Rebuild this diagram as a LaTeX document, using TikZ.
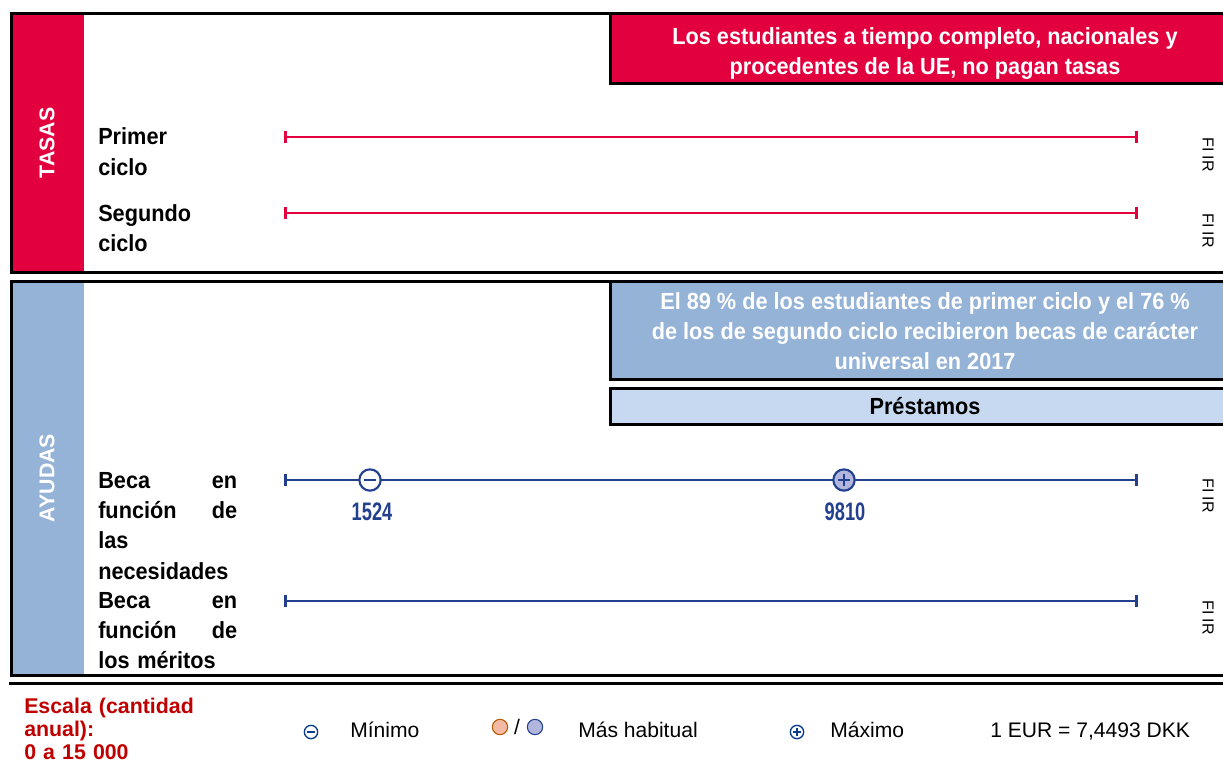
\documentclass[tikz,border=0pt]{standalone}
\usepackage{fontspec}
\setmainfont{Liberation Sans}
\newfontfamily\condfont{Liberation Sans}[FakeStretch=0.93]
\newfontfamily\numfont{Liberation Sans}[FakeStretch=0.72]
\usepackage{xcolor}
\usepackage{tikz}
\usetikzlibrary{arrows.meta}
\definecolor{tasasred}{HTML}{E2003F}
\definecolor{ayudasblue}{HTML}{95B3D7}
\definecolor{prestblue}{HTML}{C6D9F1}
\definecolor{barblue}{HTML}{23408F}
\definecolor{maxfill}{HTML}{B3B6DC}
\definecolor{habitorange}{HTML}{F4B9A4}
\definecolor{escalared}{HTML}{C00000}
\definecolor{legblue}{HTML}{0B3C8C}

\begin{document}
\begin{tikzpicture}[x=0.75pt,y=-0.75pt,
	frame/.style={line width=2.25pt},
	sidetitle/.style={rotate=90,text=white,font=\bfseries\fontsize{16}{18}\selectfont},
	banner/.style={draw=black,frame,minimum width=472.5pt,inner sep=0pt},
	bannertext/.style={align=center,inner sep=0pt,font=\condfont\bfseries\fontsize{17.5}{22.5}\selectfont},
	rowlabel/.style={anchor=base west,inner sep=0pt,text width=104.25pt,align=left,font=\condfont\bfseries\fontsize{17.5}{22.8}\selectfont},
	redbar/.style={tasasred,line width=2pt,{Bar[width=9pt]}-{Bar[width=9pt]}},
	bluebar/.style={barblue,line width=2pt,{Bar[width=9pt]}-{Bar[width=9pt]}},
	firlabel/.style={rotate=-90,anchor=west,inner sep=0pt,font=\fontsize{12}{14}\selectfont},
	minmark/.style={circle,draw=barblue,fill=white,line width=1.6pt,minimum size=16pt,inner sep=0pt,
		path picture={\draw[barblue,line width=1.9pt] ([xshift=-4.3pt]path picture bounding box.center) -- ([xshift=4.3pt]path picture bounding box.center);}},
	maxmark/.style={minmark,fill=maxfill,
		path picture={\draw[barblue,line width=1.9pt] ([xshift=-4.3pt]path picture bounding box.center) -- ([xshift=4.3pt]path picture bounding box.center)
			([yshift=-4.3pt]path picture bounding box.center) -- ([yshift=4.3pt]path picture bounding box.center);}},
	numlabel/.style={text=barblue,font=\numfont\bfseries\fontsize{19}{21}\selectfont},
	legtext/.style={anchor=base west,inner sep=0pt,font=\fontsize{15.8}{18}\selectfont},
	legmin/.style={circle,draw=legblue,line width=1pt,minimum size=10pt,inner sep=0pt,
		path picture={\draw[legblue,line width=1pt] ([xshift=-2.8pt]path picture bounding box.center) -- ([xshift=2.8pt]path picture bounding box.center);}},
	legmax/.style={legmin,
		path picture={\draw[legblue,line width=1pt] ([xshift=-2.8pt]path picture bounding box.center) -- ([xshift=2.8pt]path picture bounding box.center)
			([yshift=-2.8pt]path picture bounding box.center) -- ([yshift=2.8pt]path picture bounding box.center);}},
	habit/.style={circle,line width=0.8pt,minimum size=11.5pt,inner sep=0pt}
	]
	\clip (0,0) rectangle (1223,763);
	
	% TASAS
	\fill[tasasred] (11,14) rectangle (84,272);
	\draw[frame] (11,14) rectangle (1240,272);
	\node[sidetitle] (tasas) at (47,143) {TASAS};
	\node[banner,fill=tasasred,minimum height=52.5pt] (tasasbox) at (925,49) {};
	\node[bannertext,text=white] (tasasnote) at ([yshift=-3.6pt]tasasbox.center)
		{Los estudiantes a tiempo completo, nacionales y\\procedentes de la UE, no pagan tasas};
	\node[rowlabel] (primer) at (98,145) {Primer\\ciclo};
	\node[rowlabel] (segundo) at (98,221) {Segundo\\ciclo};
	\coordinate (p1s) at (284,137);
	\coordinate (p1e) at (1138,137);
	\coordinate (p2s) at (284,213);
	\coordinate (p2e) at (1138,213);
	\draw[redbar] (p1s) -- (p1e);
	\draw[redbar] (p2s) -- (p2e);
	\node[firlabel] (fir1) at (1208,137) {FI IR};
	\node[firlabel] (fir2) at (1208,213) {FI IR};
	
	% AYUDAS
	\fill[ayudasblue] (11,281) rectangle (84,675);
	\draw[frame] (11,281) rectangle (1240,675);
	\draw[frame] (9,683) -- (1240,683);
	\node[sidetitle] (ayudas) at (47,478) {AYUDAS};
	\node[banner,fill=ayudasblue,minimum height=73.5pt] (ayudasbox) at (925,330) {};
	\node[bannertext,text=white] (ayudasnote) at ([yshift=-0.8pt]ayudasbox.center)
		{El 89 \% de los estudiantes de primer ciclo y el 76 \%\\de los de segundo ciclo recibieron becas de carácter\\universal en 2017};
	\node[banner,fill=prestblue,minimum height=27pt] (prestbox) at (925,406) {};
	\node[bannertext] (prestamos) at (prestbox.center) {Préstamos};
	\node[rowlabel] (necesidades) at (98,488) {Beca\hfill en\\función\hfill de\\las\\necesidades};
	\node[rowlabel] (meritos) at (98,608) {Beca\hfill en\\función\hfill de\\los méritos};
	\coordinate (b1s) at (284,480);
	\coordinate (b1e) at (1138,480);
	\coordinate (b2s) at (284,601);
	\coordinate (b2e) at (1138,601);
	\draw[bluebar] (b1s) -- (b1e);
	\draw[bluebar] (b2s) -- (b2e);
	\node[minmark] (minimo) at (370,480) {};
	\node[maxmark] (maximo) at (844,480) {};
	\node[numlabel] (v1524) at (372,512) {1524};
	\node[numlabel] (v9810) at (845,512) {9810};
	\node[firlabel] (fir3) at (1208,478) {FI IR};
	\node[firlabel] (fir4) at (1208,600) {FI IR};
	
	% leyenda
	\node[legtext,text=escalared,font=\bfseries\fontsize{16}{17.4}\selectfont,text width=140pt,align=left] (escala) at (24,713)
		{Escala (cantidad\\anual):\\0 a 15 000};
	\node[legmin] (legmin) at (311,732) {};
	\node[legtext] (tmin) at (350,737) {Mínimo};
	\node[habit,draw=orange!70!black,fill=habitorange] (habo) at (500,727) {};
	\node[legtext,anchor=base] (slash) at (517,734) {/};
	\node[habit,draw=barblue,fill=maxfill] (habb) at (535,727) {};
	\node[legtext] (thabit) at (578,737) {Más habitual};
	\node[legmax] (legmax) at (797,732) {};
	\node[legtext] (tmax) at (830,737) {Máximo};
	\node[legtext] (cambio) at (990,737) {1 EUR = 7,4493 DKK};
\end{tikzpicture}
\end{document}
